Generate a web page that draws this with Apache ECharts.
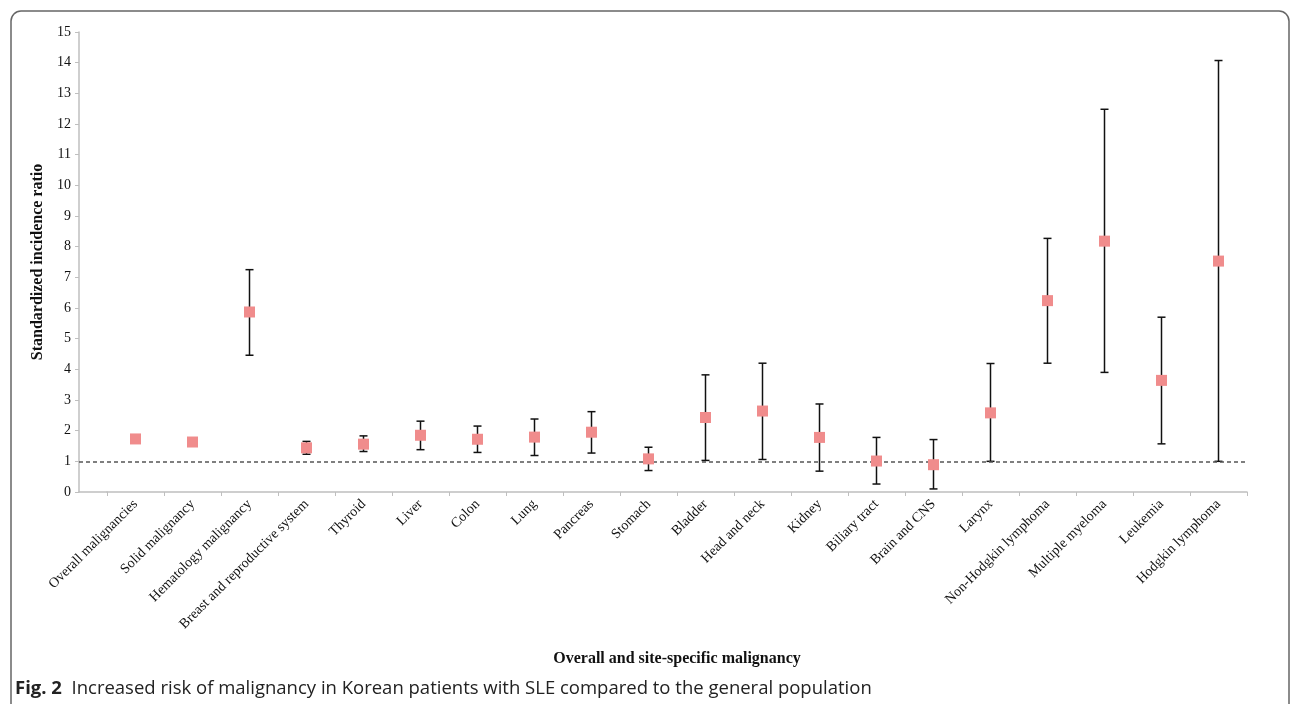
<!DOCTYPE html>
<html>
<head>
<meta charset="utf-8">
<script src="https://cdn.jsdelivr.net/npm/echarts@6/dist/echarts.min.js"></script>
<style>
html,body{margin:0;padding:0;background:#fff;}
#chart{width:1293px;height:704px;}
</style>
</head>
<body>
<div id="chart"></div>
<script>
const categories = ['Overall malignancies','Solid malignancy','Hematology malignancy','Breast and reproductive system','Thyroid','Liver','Colon','Lung','Pancreas','Stomach','Bladder','Head and neck','Kidney','Biliary tract','Brain and CNS','Larynx','Non-Hodgkin lymphoma','Multiple myeloma','Leukemia','Hodgkin lymphoma'];
const sir   = [1.73, 1.63, 5.87, 1.44, 1.56, 1.85, 1.72, 1.79, 1.95, 1.08, 2.43, 2.64, 1.78, 1.01, 0.89, 2.58, 6.24, 8.18, 3.64, 7.53];
const lower = [null, null, 4.46, 1.23, 1.32, 1.38, 1.29, 1.19, 1.27, 0.70, 1.03, 1.06, 0.68, 0.26, 0.10, 1.00, 4.20, 3.90, 1.57, 1.00];
const upper = [null, null, 7.25, 1.65, 1.83, 2.31, 2.15, 2.38, 2.62, 1.46, 3.82, 4.20, 2.87, 1.78, 1.71, 4.19, 8.27, 12.48, 5.70, 14.07];
const yTicks = [0,1,2,3,4,5,6,7,8,9,10,11,12,13,14,15];
const referenceLine = 1;

const serif = '"Liberation Serif", "Times New Roman", serif';
const axisGray = '#BFBFBF';

const errData = [];
categories.forEach((c, i) => { if (lower[i] != null) errData.push([i, lower[i], upper[i]]); });

const chart = echarts.init(document.getElementById('chart'));
chart.setOption({
  animation: false,
  backgroundColor: '#fff',
  title: {
    text: '{b|Fig. 2}  Increased risk of malignancy in Korean patients with SLE compared to the general population',
    left: 10, top: 674,
    textStyle: {
      fontFamily: '"Open Sans", "Noto Sans", sans-serif', fontSize: 18.5, fontWeight: 'normal', color: '#222',
      rich: { b: { fontFamily: '"Open Sans", "Noto Sans", sans-serif', fontSize: 18.5, fontWeight: 'bold', color: '#222' } }
    }
  },
  graphic: [{
    type: 'rect', silent: true, z: 100,
    shape: { x: 11, y: 11, width: 1278, height: 720, r: 10 },
    style: { fill: 'none', stroke: '#666', lineWidth: 1.5 }
  }],
  grid: [
    { left: 107, right: 46, top: 32, bottom: 212 },
    { left: 79, width: 28, top: 32, bottom: 212 }
  ],
  xAxis: [{
    type: 'category', gridIndex: 0, data: categories, boundaryGap: true,
    axisLine: { lineStyle: { color: axisGray, width: 1.5 } },
    axisTick: { show: true, length: 4, lineStyle: { color: axisGray } },
    axisLabel: { rotate: 45, interval: 0, fontFamily: serif, fontSize: 14, color: '#111', margin: 10 },
    splitLine: { show: false },
    name: 'Overall and site-specific malignancy', nameLocation: 'middle', nameGap: 159,
    nameTextStyle: { fontFamily: serif, fontSize: 16, fontWeight: 'bold', color: '#111' }
  }, {
    type: 'value', gridIndex: 1, min: 0, max: 1,
    axisLine: { show: true, lineStyle: { color: axisGray, width: 1.5 } },
    axisTick: { show: false }, axisLabel: { show: false }, splitLine: { show: false }
  }],
  yAxis: [{
    type: 'value', gridIndex: 0, min: 0, max: 15, interval: 1, offset: 28,
    axisLine: { show: true, lineStyle: { color: axisGray, width: 1.5 } },
    axisTick: { show: true, length: 4, lineStyle: { color: axisGray } },
    axisLabel: { fontFamily: serif, fontSize: 14, color: '#111', margin: 8,
      formatter: v => yTicks.includes(v) ? String(v) : '' },
    splitLine: { show: false },
    name: 'Standardized incidence ratio', nameLocation: 'middle', nameGap: 32, nameRotate: 90,
    nameTextStyle: { fontFamily: serif, fontSize: 16, fontWeight: 'bold', color: '#111' }
  }, {
    type: 'value', gridIndex: 1, min: 0, max: 15, show: false
  }],
  series: [{
    type: 'custom', xAxisIndex: 0, yAxisIndex: 0, data: errData, z: 2,
    renderItem: function (params, api) {
      const x = api.value(0);
      const lo = api.coord([x, api.value(1)]);
      const hi = api.coord([x, api.value(2)]);
      const cw = 4;
      const st = { stroke: '#111', lineWidth: 1.5 };
      return { type: 'group', children: [
        { type: 'line', shape: { x1: lo[0], y1: lo[1], x2: hi[0], y2: hi[1] }, style: st },
        { type: 'line', shape: { x1: lo[0]-cw, y1: lo[1], x2: lo[0]+cw, y2: lo[1] }, style: st },
        { type: 'line', shape: { x1: hi[0]-cw, y1: hi[1], x2: hi[0]+cw, y2: hi[1] }, style: st }
      ]};
    }
  }, {
    type: 'scatter', xAxisIndex: 0, yAxisIndex: 0, data: sir, z: 5,
    symbol: 'rect', symbolSize: 11,
    itemStyle: { color: '#F08C8C', opacity: 1 },
    markLine: {
      silent: true, symbol: 'none', label: { show: false },
      lineStyle: { type: [4, 3], color: '#555', width: 1.5 },
      data: [{ yAxis: referenceLine }]
    }
  }, {
    type: 'line', xAxisIndex: 1, yAxisIndex: 1, data: [],
    markLine: {
      silent: true, symbol: 'none', label: { show: false },
      lineStyle: { type: [4, 3], color: '#555', width: 1.5 },
      data: [{ yAxis: referenceLine }]
    }
  }]
});
</script>
</body>
</html>
